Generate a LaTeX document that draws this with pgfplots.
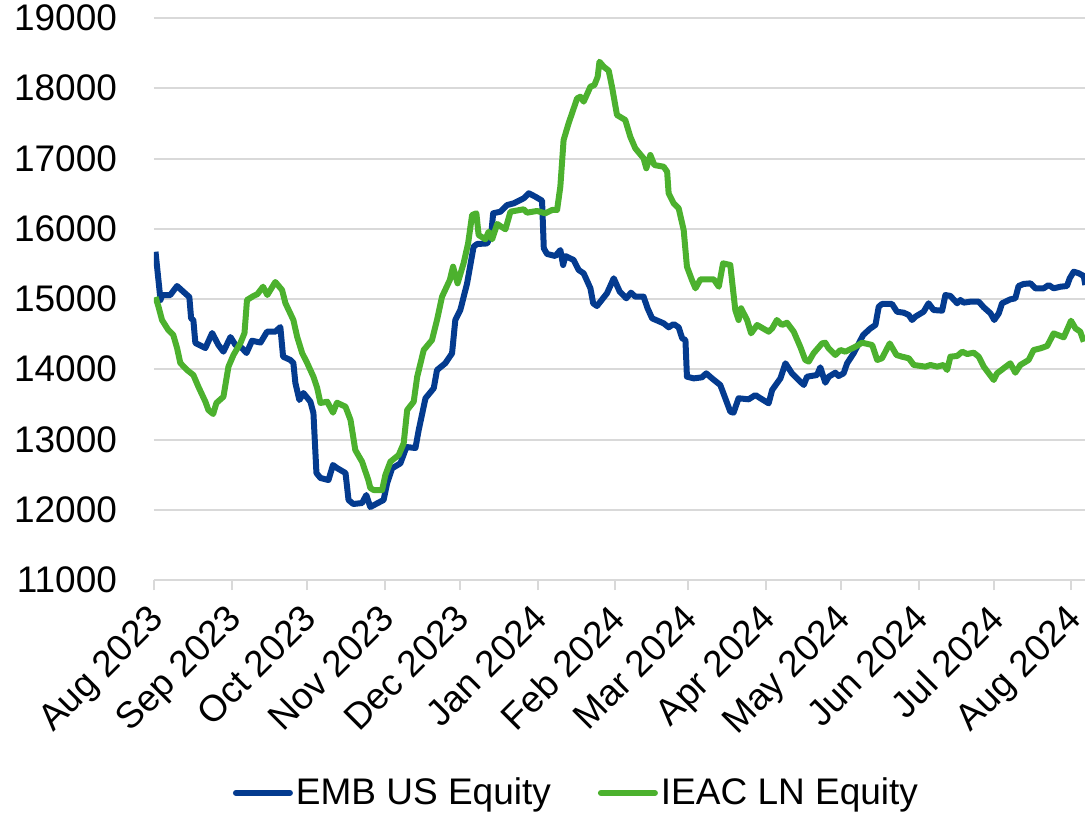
\documentclass[border=0pt]{standalone}
\usepackage{fontspec}
\setmainfont{Liberation Sans}
\usepackage{pgfplots}
\pgfplotsset{compat=1.18}
\definecolor{embblue}{HTML}{043B8F}
\definecolor{ieacgreen}{HTML}{4CB12E}
\definecolor{gridgray}{HTML}{D9D9D9}
\begin{document}
\begin{tikzpicture}
\begin{axis}[
  at={(0,0)}, anchor=south west,
  scale only axis,
  width=465.5pt, height=281pt,
  xmin=0, xmax=371.4,
  ymin=11000, ymax=19000,
  ytick={11000,12000,...,19000},
  scaled y ticks=false,
  xtick={0,31,61,92,122,153,184,213,244,274,305,335,366},
  xticklabels={Aug 2023,Sep 2023,Oct 2023,Nov 2023,Dec 2023,Jan 2024,Feb 2024,Mar 2024,Apr 2024,May 2024,Jun 2024,Jul 2024,Aug 2024},
  axis lines*=left,
  y axis line style={draw=none},
  x axis line style={draw=gridgray, line width=1pt},
  ymajorgrids,
  grid style={draw=gridgray, line width=1pt},
  tick align=outside,
  major tick length=5pt,
  xtick style={draw=gridgray, line width=1pt},
  ytick style={draw=none},
  /pgf/number format/assume math mode=true,
  /pgf/number format/1000 sep={},
  yticklabel={\pgfmathprintnumber[fixed,precision=0,1000 sep={}]{\tick}},
  tick label style={font=\fontsize{18.5}{22}\selectfont, text=black},
  yticklabel style={xshift=-10pt},
  xticklabel style={xshift=-3.5pt, rotate=45, anchor=north east, inner sep=0pt},
  xticklabel shift=6pt,
  legend style={at={(0.4543,-0.379)}, anchor=center, draw=none, fill=none,
    legend columns=2, font=\fontsize{18.5}{22}\selectfont,
    /tikz/every even column/.append style={column sep=22pt},
    nodes={inner sep=1.5pt}},
  legend image code/.code={\draw[#1, line width=3pt, line cap=round] (0pt,0pt) -- (27pt,0pt);},
  clip=true,
]
\addplot[embblue, line width=3pt, line join=round] coordinates {
(0.6,15673)(2.6,14986)(3.2,15057)(6.5,15057)(9.2,15185)(11.7,15104)(14.1,15028)(14.8,14725)(15.7,14700)(16.5,14374)(20.5,14302)(23.2,14516)(25.7,14345)(27.7,14250)(30.5,14459)(32.5,14345)(35.1,14302)(36.9,14231)(39.1,14406)(42.5,14380)(45.1,14535)(48.4,14535)(50.4,14601)(51.5,14179)(54.4,14132)(55.6,14089)(56.4,13804)(58.0,13562)(59.6,13662)(62.4,13538)(63.6,13377)(64.8,12523)(66.4,12452)(69.6,12423)(71.4,12637)(73.0,12594)(76.4,12523)(77.6,12139)(79.5,12082)(83.0,12096)(84.7,12210)(86.3,12039)(90.3,12115)(91.6,12139)(93.0,12377)(95.0,12590)(98.3,12661)(100.7,12893)(104.3,12879)(105.6,13135)(108.3,13587)(111.6,13730)(112.9,13989)(116.2,14085)(118.9,14227)(120.2,14701)(122.2,14843)(124.9,15223)(127.5,15745)(128.9,15783)(132.9,15791)(134.5,15911)(135.3,16220)(138.2,16243)(140.9,16338)(143.5,16362)(147.5,16434)(149.5,16505)(152.1,16457)(154.8,16400)(155.5,15722)(156.8,15641)(160.1,15612)(162.1,15697)(163.2,15484)(164.1,15612)(167.4,15555)(169.4,15413)(171.4,15366)(174.1,15152)(175.2,14939)(176.7,14900)(180.7,15081)(183.4,15295)(185.8,15104)(188.4,15010)(190.3,15090)(192.0,15033)(195.3,15033)(196.9,14868)(198.7,14725)(203.3,14654)(205.3,14597)(207.3,14644)(209.3,14597)(210.7,14441)(212.0,14416)(212.6,13894)(215.3,13870)(218.6,13885)(220.3,13942)(222.6,13870)(225.9,13776)(227.9,13587)(229.9,13396)(231.2,13382)(233.2,13587)(237.2,13572)(239.9,13633)(241.9,13587)(245.2,13515)(246.6,13705)(249.9,13871)(251.9,14085)(254.5,13942)(256.5,13871)(259.2,13776)(260.5,13894)(264.5,13918)(265.8,14028)(267.8,13809)(269.2,13894)(271.8,13951)(273.1,13904)(275.1,13942)(276.5,14085)(279.1,14227)(282.9,14487)(285.8,14582)(287.8,14630)(289.1,14890)(290.4,14929)(294.4,14929)(296.4,14819)(299.1,14805)(301.1,14772)(302.4,14701)(303.7,14748)(307.0,14819)(309.0,14939)(311.0,14843)(314.4,14834)(315.7,15057)(317.7,15043)(320.4,14939)(321.7,14986)(323.0,14948)(325.7,14962)(329.0,14962)(331.0,14882)(333.7,14796)(335.2,14701)(337.0,14796)(338.3,14939)(341.6,14995)(343.6,15010)(344.9,15185)(346.9,15214)(349.6,15223)(351.6,15152)(354.9,15152)(356.9,15199)(358.9,15152)(361.6,15175)(364.2,15185)(365.3,15295)(366.9,15389)(368.9,15366)(370.9,15327)(371.5,15199)
};
\addlegendentry{EMB US Equity}
\addplot[ieacgreen, line width=3pt, line join=round] coordinates {
(0.6,15028)(1.8,14890)(3.2,14701)(5.7,14559)(7.7,14487)(9.2,14302)(10.5,14089)(13.2,13989)(15.7,13918)(17.7,13752)(20.5,13538)(21.7,13420)(23.6,13363)(24.9,13520)(27.7,13609)(29.7,14037)(31.7,14203)(34.5,14374)(36.1,14516)(37.1,14986)(39.7,15043)(41.3,15071)(43.5,15175)(45.2,15057)(48.4,15242)(51.1,15128)(52.4,14943)(55.6,14701)(57.1,14463)(59.1,14231)(61.1,14089)(63.6,13894)(65.1,13733)(66.4,13520)(69.1,13538)(71.4,13382)(73.0,13524)(76.4,13467)(78.4,13278)(80.3,12850)(83.0,12684)(85.5,12423)(86.3,12310)(87.6,12281)(91.0,12281)(92.3,12495)(94.3,12684)(97.6,12779)(99.6,12945)(101.0,13420)(103.6,13538)(105.0,13894)(107.6,14274)(110.9,14416)(112.9,14701)(114.9,15033)(118.0,15270)(119.3,15460)(121.1,15223)(123.5,15508)(125.3,15791)(126.9,16196)(128.6,16220)(129.5,15911)(132.2,15850)(133.5,15958)(134.9,15850)(136.9,16068)(140.2,15992)(142.2,16243)(147.5,16277)(148.8,16229)(152.8,16253)(156.1,16220)(158.8,16267)(160.8,16267)(162.1,16601)(163.4,17263)(165.4,17502)(168.8,17857)(170.1,17880)(171.4,17809)(174.1,18022)(175.7,18046)(177.0,18165)(177.7,18378)(179.4,18307)(181.4,18250)(182.7,18022)(184.7,17619)(188.0,17548)(190.0,17311)(192.0,17145)(195.3,17003)(196.4,16861)(198.0,17050)(199.6,16907)(203.3,16883)(204.7,16812)(205.3,16505)(207.3,16362)(209.3,16291)(211.3,15982)(212.6,15460)(214.6,15270)(216.0,15152)(218.0,15280)(223.3,15280)(225.3,15175)(227.0,15508)(229.9,15484)(231.0,15128)(231.9,14843)(233.2,14701)(234.2,14868)(236.6,14701)(238.2,14511)(240.6,14630)(245.2,14535)(246.6,14582)(248.5,14701)(250.5,14630)(252.5,14663)(255.2,14535)(257.8,14321)(259.8,14132)(261.2,14109)(263.1,14227)(266.5,14368)(267.8,14378)(269.1,14298)(271.8,14203)(273.8,14274)(275.8,14250)(279.8,14321)(282.5,14378)(286.5,14345)(288.5,14132)(290.4,14156)(293.5,14368)(296.2,14203)(298.4,14179)(301.1,14156)(303.1,14061)(307.7,14037)(309.7,14061)(312.4,14037)(315.0,14061)(316.4,13989)(317.7,14179)(320.4,14189)(322.4,14250)(324.4,14217)(327.0,14236)(329.0,14179)(331.0,14037)(335.0,13847)(336.3,13942)(341.6,14085)(343.6,13951)(345.6,14061)(348.9,14132)(350.9,14274)(353.6,14298)(356.3,14331)(358.9,14511)(362.9,14454)(364.2,14559)(365.8,14691)(367.6,14582)(369.5,14535)(370.9,14392)
};
\addlegendentry{IEAC LN Equity}
\end{axis}
\pgfresetboundingbox
\useasboundingbox (-77pt,-116.5pt) rectangle (465.5pt,290pt);
\end{tikzpicture}
\end{document}
